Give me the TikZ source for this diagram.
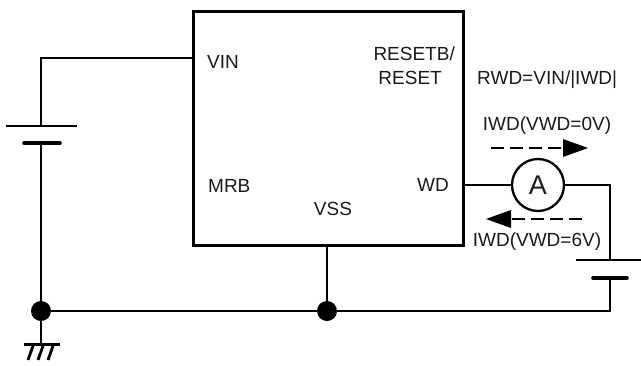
\documentclass[tikz,border=0pt]{standalone}
\usepackage{fontspec}
\setmainfont{Liberation Sans}
\usetikzlibrary{arrows.meta}
\definecolor{ink}{HTML}{1A1A1A}
\tikzset{
  x=1pt,y=-1pt,
  wire/.style={line width=2.3pt,color=black},
  thin plate/.style={line width=2pt,color=black},
  thick plate/.style={line width=3.6pt,color=black,line cap=round},
  lbl/.style={font=\fontsize{19pt}{20pt}\selectfont,text=ink,inner sep=0pt},
  dot/.style={circle,fill=black,draw=none,minimum size=20pt,inner sep=0pt},
  flow/.style={line width=2.6pt,dash pattern=on 13pt off 6pt},
  flowhead/.style={fill=black,draw=none},
  meter/.style={circle,draw=black,line width=2.3pt,fill=white,minimum size=52pt,inner sep=0pt,font=\fontsize{27pt}{28pt}\selectfont,text=ink},
}
\begin{document}
\begin{tikzpicture}
\useasboundingbox (0,0) rectangle (641,365);
% chip
\node[draw=black,line width=2.6pt,minimum width=270pt,minimum height=234pt,inner sep=0pt,anchor=north west] (chip) at (192,10) {};
% pin labels
\node[lbl,anchor=west] (vin) at (207,62) {VIN};
\node[lbl,anchor=east] (rb) at (455,54) {RESETB/};
\node[lbl,anchor=east] (rs) at (442,78) {RESET};
\node[lbl,anchor=west] (mrb) at (208,186) {MRB};
\node[lbl,anchor=east] (wd) at (449,185) {WD};
\node[lbl] (vss) at (333,209) {VSS};
\node[lbl,anchor=west] (rwd) at (477,80) {RWD=VIN/|IWD|};
\node[lbl] (i0) at (547,126) {IWD(VWD=0V)};
\node[lbl] (i6) at (537,242) {IWD(VWD=6V)};
% junctions and points
\node[dot] (j1) at (41,311) {};
\node[dot] (j2) at (327,311) {};
\node[meter] (am) at (538,185) {A};
\coordinate (vinpin) at (192,58);
\coordinate (vsspin) at (327,244);
\coordinate (wdpin) at (462,185);
\coordinate (c1) at (41,58);
\coordinate (b1a) at (41,126);
\coordinate (b1b) at (41,143);
\coordinate (c2) at (610,185);
\coordinate (b2a) at (610,260);
\coordinate (b2b) at (610,278);
\coordinate (c3) at (610,311);
\coordinate (gnd) at (41,344);
% wiring
\draw[wire] (vinpin) -- (c1) -- (b1a);
\draw[wire] (b1b) -- (j1);
\draw[wire] (j1) -- (j2) -- (c3) -- (b2b);
\draw[wire] (j2) -- (vsspin);
\draw[wire] (wdpin) -- (am);
\draw[wire] (am) -- (c2) -- (b2a);
\draw[wire] (j1) -- (gnd);
% batteries
\draw[thin plate] (6,126) -- (77,126);
\draw[thick plate] (24,143) -- (60,143);
\draw[thin plate] (576,260) -- (641,260);
\draw[thick plate] (593,278) -- (627,278);
% ground
\draw[wire] (24,344.5) -- (60,344.5);
\draw[line width=2.8pt] (33,346) -- (28,360) (43,346) -- (38,360) (53,346) -- (48,360);
% current arrows
\coordinate (f1s) at (491,148);
\coordinate (f1e) at (564,148);
\coordinate (f2s) at (582,219);
\coordinate (f2e) at (511,219);
\draw[flow] (f1s) -- (f1e);
\fill[flowhead] (563,139) -- (588,148) -- (563,157) -- cycle;
\draw[flow] (f2s) -- (f2e);
\fill[flowhead] (511,210) -- (486,219) -- (511,228) -- cycle;
\end{tikzpicture}
\end{document}
